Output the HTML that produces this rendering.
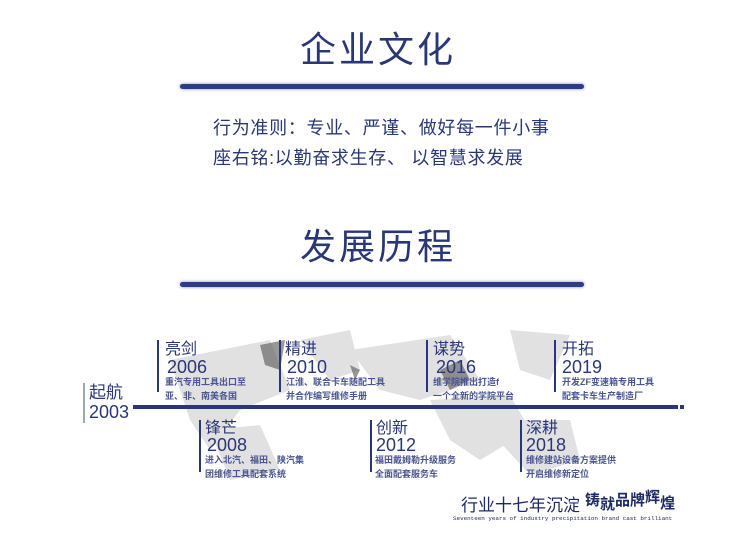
<!DOCTYPE html>
<html><head><meta charset="utf-8"><style>
body{margin:0;width:755px;height:553px;background:#fff;position:relative;overflow:hidden;font-family:"Liberation Sans","Noto Sans CJK SC",sans-serif;color:#2a3777}
.a{position:absolute;white-space:nowrap}
.t{font-size:36px;letter-spacing:3px;color:#2a3777}
.hl{position:absolute;height:5px;background:#2d3c84;border-radius:3px;box-shadow:0 0 3px #7c88b8}
.p{font-size:18px;letter-spacing:0.7px;color:#2a3777}
.bar{position:absolute;width:2px;background:#2a3777}
.h{font-size:16px;color:#2a3777;line-height:17px}
.y{font-size:18px;color:#2a3777;line-height:19px}
.s{font-size:9px;font-weight:bold;color:#4a5592;line-height:14px}
</style></head><body>
<div class="a t" style="left:300px;top:21px">企业文化</div>
<div class="hl" style="left:180px;top:84px;width:404px"></div>
<div class="a p" style="left:213px;top:114px">行为准则：专业、严谨、做好每一件小事</div>
<div class="a p" style="left:213px;top:144px">座右铭:以勤奋求生存、 以智慧求发展</div>
<div class="a t" style="left:300px;top:218px">发展历程</div>
<div class="hl" style="left:180px;top:282px;width:404px"></div>

<svg class="a" style="left:150px;top:310px" width="500" height="200">
<g fill="#c4c4c4" opacity="0.5">
<path d="M20 50 L120 30 L140 80 L90 100 L60 140 L40 110 Z"/>
<path d="M200 40 L300 25 L330 70 L270 90 L230 80 Z"/>
<path d="M150 30 L200 20 L210 60 L180 70 Z"/>
<path d="M280 90 L360 85 L380 120 L330 150 L300 130 Z"/>
<path d="M360 20 L420 25 L400 70 L370 60 Z"/>
<path d="M60 120 L110 115 L130 160 L80 170 Z"/>
<path d="M330 110 L420 110 L430 150 L380 165 Z"/>
</g>
<g fill="#555" opacity="0.6">
<path d="M110 35 L135 30 L130 60 L115 55 Z"/>
<path d="M290 60 L310 50 L320 70 L300 80 Z"/>
<path d="M200 55 L210 60 L205 70 Z"/>
</g>
</svg>

<div class="a" style="left:133px;top:405px;width:545px;height:4px;background:#2a3777"></div>
<div class="a" style="left:680px;top:405px;width:4px;height:4px;background:#2a3777"></div>

<div class="bar" style="left:83px;top:383px;height:40px;background:#9aa"></div>
<div class="a h" style="left:89px;top:384px;font-size:17px">起航</div>
<div class="a y" style="left:89px;top:403px">2003</div>

<div class="bar" style="left:157px;top:340px;height:52px"></div>
<div class="a h" style="left:165px;top:341px">亮剑</div>
<div class="a y" style="left:167px;top:358px">2006</div>
<div class="a s" style="left:165px;top:375px">重汽专用工具出口至<br>亚、非、南美各国</div>

<div class="bar" style="left:279px;top:340px;height:52px"></div>
<div class="a h" style="left:285px;top:341px">精进</div>
<div class="a y" style="left:287px;top:358px">2010</div>
<div class="a s" style="left:286px;top:375px">江淮、联合卡车随配工具<br>并合作编写维修手册</div>

<div class="bar" style="left:426px;top:340px;height:52px"></div>
<div class="a h" style="left:433px;top:341px">谋势</div>
<div class="a y" style="left:436px;top:358px">2016</div>
<div class="a s" style="left:433px;top:375px">维学院推出打造f<br>一个全新的学院平台</div>

<div class="bar" style="left:554px;top:340px;height:52px"></div>
<div class="a h" style="left:562px;top:341px">开拓</div>
<div class="a y" style="left:562px;top:358px">2019</div>
<div class="a s" style="left:562px;top:375px">开发ZF变速箱专用工具<br>配套卡车生产制造厂</div>

<div class="bar" style="left:199px;top:420px;height:52px"></div>
<div class="a h" style="left:205px;top:420px">锋芒</div>
<div class="a y" style="left:207px;top:436px">2008</div>
<div class="a s" style="left:205px;top:453px">进入北汽、福田、陕汽集<br>团维修工具配套系统</div>

<div class="bar" style="left:370px;top:420px;height:52px"></div>
<div class="a h" style="left:376px;top:420px">创新</div>
<div class="a y" style="left:376px;top:436px">2012</div>
<div class="a s" style="left:375px;top:453px">福田戴姆勒升级服务<br>全面配套服务车</div>

<div class="bar" style="left:520px;top:420px;height:52px"></div>
<div class="a h" style="left:526px;top:420px">深耕</div>
<div class="a y" style="left:526px;top:436px">2018</div>
<div class="a s" style="left:526px;top:453px">维修建站设备方案提供<br>开启维修新定位</div>

<div class="a" style="left:461px;top:491px;font-size:17px;color:#1e2a66">行业十七年沉淀</div>
<div class="a" style="left:585px;top:489px;font-size:15px;font-weight:bold;color:#1e2a66">铸<span style="position:relative;top:4px">就</span>品牌<span style="position:relative;top:-3px">辉</span><span style="position:relative;top:3px">煌</span></div>
<div class="a" style="left:453px;top:515px;font-size:5.9px;font-family:'Liberation Mono',monospace;color:#1e2a66">Seventeen years of industry precipitation brand cast brilliant</div>
</body></html>
